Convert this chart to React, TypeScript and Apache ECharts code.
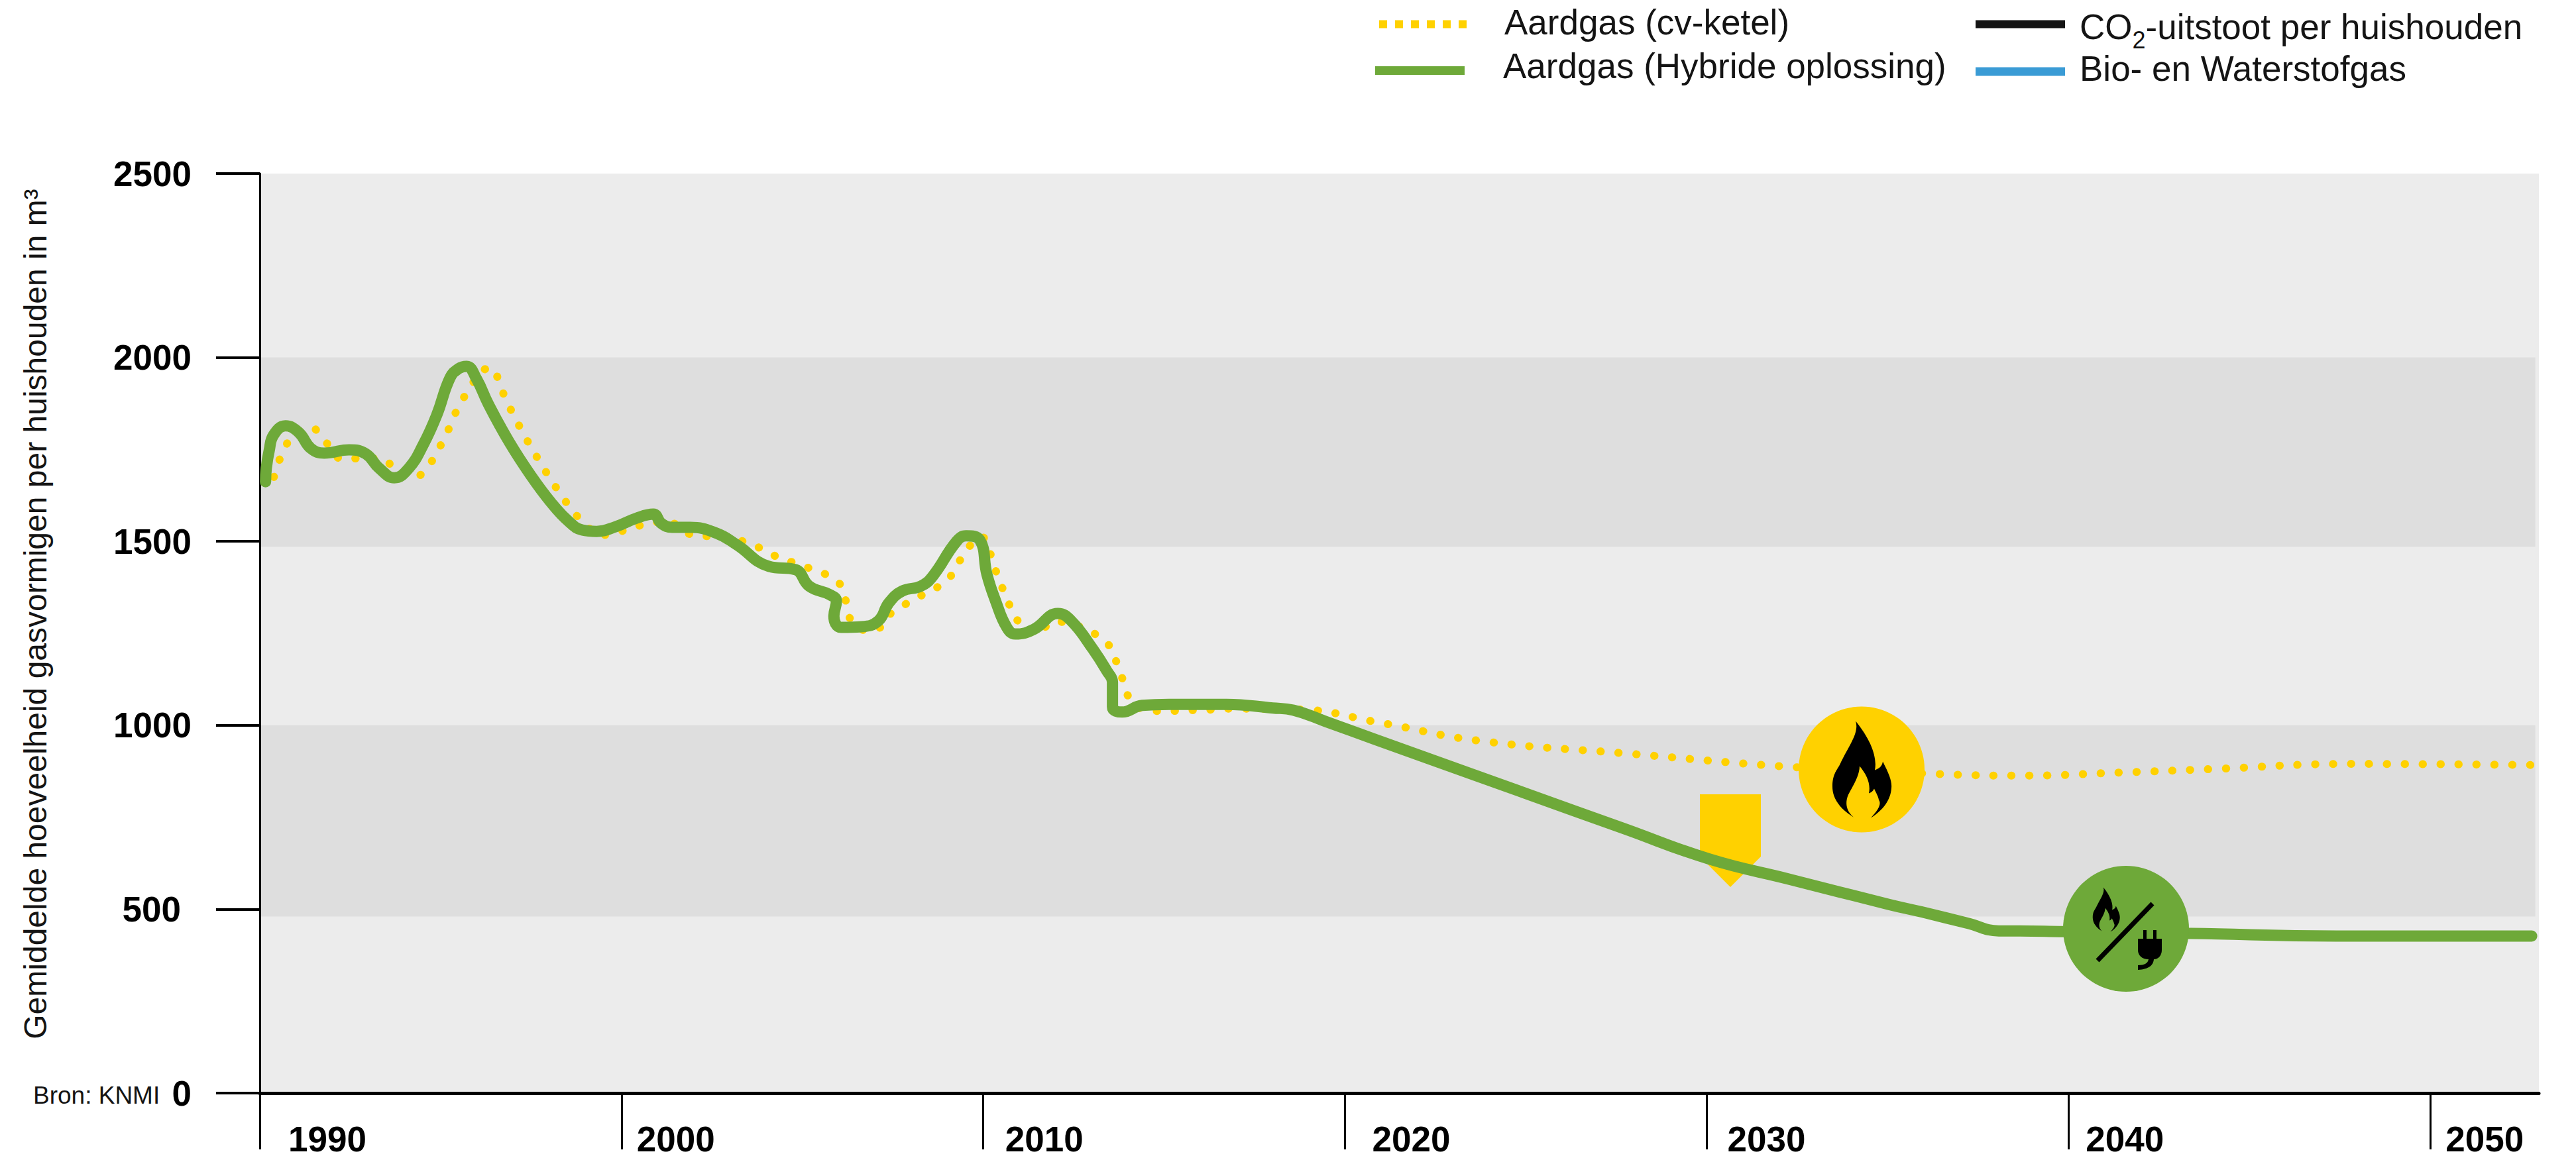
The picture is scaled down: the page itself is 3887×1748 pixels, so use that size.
import React, { useEffect, useRef } from "react";
import * as echarts from "echarts";

const FONT = "'Liberation Sans', Arial, sans-serif";
const YELLOW = "#FFD100";
const GREEN = "#6EA939";
const BLUE = "#3A9BD5";
const BLACK = "#141414";

const yearTicks = [1990, 2000, 2010, 2020, 2030, 2040, 2050];
const yearLabelGaps = [43, 23, 33, 41, 31, 26, 23];
const valueTicks = [0, 500, 1000, 1500, 2000, 2500];
const darkBands = [[480, 1000], [1485, 2000]];

const seriesNames = ["Aardgas (cv-ketel)", "Aardgas (Hybride oplossing)", "CO2-uitstoot per huishouden", "Bio- en Waterstofgas"];

const cvKetel = [
  [1990.39,1675],[1990.53,1718],[1990.73,1762],[1990.99,1796],[1991.43,1808],[1991.74,1780],[1992.31,1724],[1992.84,1726],[1993.39,1724],[1993.77,1693],
  [1994.27,1675],[1994.66,1706],[1994.93,1749],[1995.17,1794],[1995.37,1841],[1995.61,1886],[1995.88,1929],[1996.14,1965],[1996.43,1970],[1996.62,1929],
  [1996.82,1882],[1997.04,1839],[1997.28,1794],[1997.53,1751],[1997.79,1708],[1998.06,1666],[1998.34,1625],[1998.65,1583],[1998.98,1549],[1999.4,1517],
  [1999.86,1524],[2000.32,1538],[2000.78,1549],[2001.23,1554],[2001.95,1518],[2002.46,1513],[2003.49,1497],[2003.95,1475],[2004.37,1455],[2004.79,1441],
  [2005.25,1425],[2005.67,1409],[2006.05,1382],[2006.22,1331],[2006.36,1284],[2006.84,1257],[2007.23,1272],[2007.46,1306],[2007.81,1327],[2008.25,1351],
  [2008.69,1373],[2009.06,1401],[2009.31,1441],[2009.57,1481],[2009.94,1513],[2010.16,1475],[2010.3,1432],[2010.47,1389],[2010.63,1347],[2010.84,1306],
  [2011.07,1270],[2011.48,1250],[2011.95,1282],[2012.83,1263],[2013.2,1239],[2013.53,1210],[2013.69,1169],[2013.84,1128],[2013.97,1086],[2014.19,1055],
  [2014.67,1039],[2015.14,1039],[2015.62,1041],[2016.08,1041],[2016.55,1045],[2018.7,1043],[2020.97,1007],[2023.7,958],[2027.95,922],[2032.44,886],
  [2036.29,868],[2038.67,863],[2041.55,872],[2043.97,881],[2047.78,895],[2052.91,892],
];

const hybride = [
  [1990.16,1662],[1990.18,1699],[1990.26,1747],[1990.38,1789],[1990.71,1814],[1991.08,1796],[1991.41,1753],[1991.78,1740],[1992.47,1749],[1992.93,1738],[1993.3,1699],
  [1993.72,1673],[1994.12,1699],[1994.53,1765],[1994.89,1843],[1995.26,1945],[1995.5,1970],[1995.72,1976],[1995.99,1942],[1996.32,1873],[1996.89,1771],[1997.48,1681],
  [1998.04,1607],[1998.54,1554],[1998.91,1531],[1999.31,1527],[1999.84,1540],[2000.41,1563],[2000.88,1574],[2001.1,1549],[2001.4,1538],[2001.89,1538],
  [2002.63,1522],[2003.18,1491],[2004.07,1432],[2004.81,1423],[2005.19,1378],[2005.76,1355],[2005.94,1338],[2005.87,1297],[2006.07,1266],[2006.64,1268],
  [2007.1,1284],[2007.39,1333],[2007.76,1365],[2008.27,1378],[2008.6,1405],[2009.26,1500],[2009.53,1515],[2009.9,1504],[2010.1,1410],[2010.34,1338],
  [2010.65,1266],[2010.89,1248],[2011.4,1261],[2012.06,1304],[2012.43,1284],[2013.03,1207],[2013.42,1147],[2013.57,1117],[2013.57,1050],[2013.84,1036],
  [2014.39,1054],[2015.14,1057],[2016.72,1057],[2018.0,1047],[2018.57,1041],[2019.47,1010],[2022.2,913],[2024.96,816],[2027.71,719],[2030.08,636],[2032.3,581],[2035.03,513],
  [2035.96,492],[2037.24,461],[2038.07,441],[2038.53,441],[2039.86,439],[2043.38,434],[2047.41,427],[2052.8,427],
];

const FLAME = "M-9,-73 C14,-45 24,-18 20,1 C28,-2 31,-6 32,-12 C42,8 46,18 45,28 C44,46 32,62 14,73 C26,60 30,52 26,46 C25,40 22,36 19,29 C17,33 14,35 11,36 C14,22 8,8 -3,-5 C-3,10 -14,26 -20,38 C-26,52 -22,64 -12,72 C-32,60 -44,44 -44,26 C-44,8 -38,2 -33,-7 C-20,-35 -3,-55 -9,-73 Z";
const PLUG = "M26,2 L31,2 L31,15 L41,15 L41,2 L46,2 L46,15 L54,15 L54,32 C54,40 49,46 42,46 C41,55 35,61 18,62 L18,55 C28,55 33,52 34,46 C24,46 18,40 18,32 L18,15 L26,15 Z";
echarts.graphic.registerShape("flame", echarts.graphic.extendPath(FLAME, {}) as any);
echarts.graphic.registerShape("plug", echarts.graphic.extendPath(PLUG, {}) as any);

const legendEntry = (i: number, left: number, top: number, padding: number[], extra: any, itemHeight = 13) => ({
  show: true,
  data: [{ name: seriesNames[i], ...extra }],
  left,
  top,
  padding: 0,
  itemWidth: 135,
  itemHeight,
  selectedMode: false,
  formatter: (n: string) => (n.startsWith("CO2") ? "{a|CO}{b|2}{a|-uitstoot per huishouden}" : n),
  textStyle: {
    fontFamily: FONT,
    fontSize: 53,
    color: BLACK,
    padding,
    rich: {
      a: { fontFamily: FONT, fontSize: 53, color: BLACK, verticalAlign: "top" },
      b: { fontFamily: FONT, fontSize: 36, color: BLACK, verticalAlign: "bottom", padding: [28, 0, 0, 0] },
    },
  },
});

export default function App() {
  const ref = useRef<HTMLDivElement>(null);
  useEffect(() => {
    const chart = echarts.init(ref.current!, undefined, { renderer: "svg" });
    chart.setOption({
      animation: false,
      backgroundColor: "#fff",
      grid: { left: 392, right: 56, top: 262, bottom: 98 },
      legend: [
        legendEntry(0, 2075, 7, [0, 0, 6, 49], { lineStyle: { width: 12, type: [12, 12], cap: "butt" }, itemStyle: { opacity: 0 } }),
        legendEntry(1, 2075, 73, [0, 0, 14, 53], { icon: "rect" }),
        legendEntry(2, 2981, 14, [19, 0, 0, 17], { icon: "rect" }, 12),
        legendEntry(3, 2981, 77, [0, 0, 9, 17], { icon: "rect" }),
      ],
      xAxis: {
        type: "value",
        min: 1990,
        max: 2053,
        interval: 10,
        splitLine: { show: false },
        axisLine: { show: true, lineStyle: { color: "#000", width: 5 } },
        axisTick: { show: true, length: 85, customValues: yearTicks, lineStyle: { color: "#000", width: 3 } },
        axisLabel: {
          customValues: yearTicks,
          formatter: (v: number) => `{y${v}|${v}}`,
          fontFamily: FONT,
          fontSize: 53,
          fontWeight: "bold",
          color: "#000",
          align: "left",
          margin: 43,
          rich: Object.fromEntries(
            yearTicks.map((y, i) => [
              `y${y}`,
              { fontFamily: FONT, fontSize: 53, fontWeight: "bold", color: "#000", padding: [0, 0, 0, yearLabelGaps[i]] },
            ]),
          ),
        },
      },
      yAxis: {
        type: "value",
        min: 0,
        max: 2500,
        interval: 500,
        splitLine: { show: false },
        axisLine: { show: true, lineStyle: { color: "#000", width: 3 } },
        axisTick: { show: true, length: 66, customValues: valueTicks, lineStyle: { color: "#000", width: 4 } },
        axisLabel: {
          formatter: (v: number) => (v === 500 ? "{s|500}" : String(v)),
          fontFamily: FONT,
          fontSize: 53,
          fontWeight: "bold",
          color: "#000",
          margin: 103,
          rich: { s: { fontFamily: FONT, fontSize: 53, fontWeight: "bold", color: "#000", padding: [0, 16, 0, 0] } },
        },
        name: "Gemiddelde hoeveelheid gasvormigen per huishouden in m³",
        nameLocation: "middle",
        nameGap: 315,
        nameRotate: 90,
        nameTextStyle: { fontFamily: FONT, fontSize: 48, color: BLACK, padding: [0, 0, 0, 58] },
      },
      series: [
        {
          name: seriesNames[0],
          type: "line",
          data: cvKetel,
          showSymbol: false,
          symbol: "none",
          smooth: 0.45,
          clip: false,
          itemStyle: { color: YELLOW },
          lineStyle: { color: YELLOW, width: 12, type: [0.5, 26.5], cap: "round" },
          markArea: {
            silent: true,
            z: 0,
            data: [
              [{ xAxis: 1990, yAxis: 2500, itemStyle: { color: "#ECECEC" } }, { xAxis: 2053, yAxis: 0 }],
              ...darkBands.map(([lo, hi]) => [
                { xAxis: 1990, yAxis: hi, itemStyle: { color: "#DEDEDE" } },
                { xAxis: 2052.9, yAxis: lo },
              ]),
            ],
          },
        },
        {
          name: seriesNames[1],
          type: "line",
          data: hybride,
          showSymbol: false,
          symbol: "none",
          smooth: 0.45,
          clip: false,
          itemStyle: { color: GREEN },
          lineStyle: { color: GREEN, width: 17, cap: "round", join: "round" },
        },
        { name: seriesNames[2], type: "line", data: [], symbol: "none", itemStyle: { color: BLACK }, lineStyle: { color: BLACK, width: 12 } },
        { name: seriesNames[3], type: "line", data: [], symbol: "none", itemStyle: { color: BLUE }, lineStyle: { color: BLUE, width: 13 } },
      ],
      graphic: {
        elements: [
          { type: "polygon", z: 1, shape: { points: [[2565, 1199], [2657, 1199], [2657, 1293], [2611, 1339], [2565, 1293]] }, style: { fill: YELLOW }, silent: true },
          { type: "circle", z: 10, shape: { cx: 2809, cy: 1161.5, r: 95 }, style: { fill: YELLOW }, silent: true },
          { type: "flame", z: 11, x: 2809, y: 1161.5, style: { fill: "#000" }, silent: true },
          { type: "circle", z: 10, shape: { cx: 3208, cy: 1402, r: 95 }, style: { fill: GREEN }, silent: true },
          { type: "flame", z: 11, x: 3178, y: 1373, scaleX: 0.46, scaleY: 0.46, style: { fill: "#000" }, silent: true },
          { type: "line", z: 11, shape: { x1: 3248, y1: 1364, x2: 3165, y2: 1450 }, style: { stroke: "#000", lineWidth: 7 }, silent: true },
          { type: "plug", z: 11, x: 3208, y: 1402, style: { fill: "#000" }, silent: true },
          { type: "text", z: 11, x: 50, y: 1635, style: { text: "Bron: KNMI", fill: BLACK, font: `37px ${FONT}` }, silent: true },
        ],
      },
    });
    return () => chart.dispose();
  }, []);
  return <div ref={ref} style={{ position: "absolute", left: 0, top: 0, width: 3887, height: 1748 }} />;
}
